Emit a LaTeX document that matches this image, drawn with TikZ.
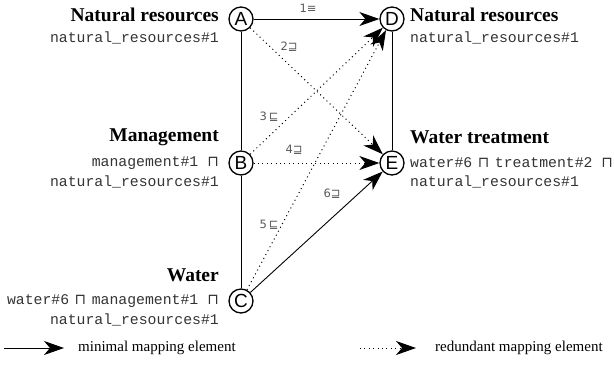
\documentclass[tikz,border=0pt]{standalone}
\usepackage{fontspec}
\setmainfont{Liberation Serif}
\setsansfont{Liberation Sans}
\setmonofont{Liberation Mono}
\newfontfamily\symf{DejaVu Sans}
\usetikzlibrary{arrows.meta}
\newcommand{\mysq}{\hspace{5.5pt}{\symf ⊓}\hspace{5.5pt}}
\begin{document}
\begin{tikzpicture}[x=1pt,y=-1pt,
  concept/.style={circle,draw,line width=1.3pt,minimum size=24pt,inner sep=0pt,font=\sffamily\fontsize{19}{19}\selectfont},
  title/.style={font=\bfseries\fontsize{19.5}{21}\selectfont,inner sep=0pt},
  code/.style={font=\ttfamily\fontsize{14.8}{16}\selectfont,text=black!80,inner sep=0pt},
  lab/.style={font=\symf\fontsize{11.5}{12}\selectfont,text=black!65,inner sep=0pt},
  legtext/.style={font=\fontsize{15}{16}\selectfont,inner sep=0pt,anchor=west},
  solidarr/.style={line width=0.9pt,-{Stealth[length=20pt,width=14pt,inset=6pt]}},
  dotarr/.style={line width=1pt,dash pattern=on 1pt off 3.4pt,-{Stealth[length=20pt,width=14pt,inset=6pt]}},
  plain/.style={line width=0.9pt}]
\useasboundingbox (0,0) rectangle (614,376);
\node[concept] (A) at (241,19) {A};
\node[concept] (D) at (392,19) {D};
\node[concept] (B) at (241,163) {B};
\node[concept] (E) at (392,163) {E};
\node[concept] (C) at (241,301) {C};

\draw[plain] (A) -- (B);
\draw[plain] (B) -- (C);
\draw[plain] (D) -- (E);
\draw[solidarr] (A) -- (D);
\draw[solidarr] (C) -- (E);
\draw[dotarr] (A) -- (E);
\draw[dotarr] (B) -- (D);
\draw[dotarr] (B) -- (E);
\draw[dotarr] (C) -- (D);

\node[lab] (l1) at (308,8) {1≡};
\node[lab] (l2) at (289,47) {2⊒};
\node[lab] (l3) at (269,117) {3\,⊑};
\node[lab] (l4) at (294,150) {4⊒};
\node[lab] (l5) at (269,225) {5\,⊑};
\node[lab] (l6) at (332,194) {6⊒};

\node[title,anchor=east] (tA) at (219,15) {Natural resources};
\node[code,anchor=east] (cA) at (219,38) {natural\_resources\#1};
\node[title,anchor=west] (tD) at (410,15) {Natural resources};
\node[code,anchor=west] (cD) at (410,38) {natural\_resources\#1};

\node[title,anchor=east] (tB) at (219,137) {Management};
\node[code,anchor=east] (cB1) at (219,163) {management\#1 {\symf ⊓}};
\node[code,anchor=east] (cB2) at (219,182) {natural\_resources\#1};

\node[title,anchor=west] (tE) at (410,137) {Water treatment};
\node[code,anchor=west] (cE1) at (410,163) {water\#6\mysq treatment\#2 {\symf ⊓}};
\node[code,anchor=west] (cE2) at (410,182) {natural\_resources\#1};

\node[title,anchor=east] (tC) at (219,275) {Water};
\node[code,anchor=east] (cC1) at (219,301) {water\#6\mysq management\#1 {\symf ⊓}};
\node[code,anchor=east] (cC2) at (219,320) {natural\_resources\#1};

\coordinate (m0) at (4,348);
\coordinate (m1) at (64,348);
\draw[solidarr] (m0) -- (m1);
\node[legtext] (mt) at (78,348) {minimal mapping element};
\coordinate (r0) at (360,348);
\coordinate (r1) at (416,348);
\draw[dotarr] (r0) -- (r1);
\node[legtext] (rt) at (435,348) {redundant mapping element};
\end{tikzpicture}
\end{document}
